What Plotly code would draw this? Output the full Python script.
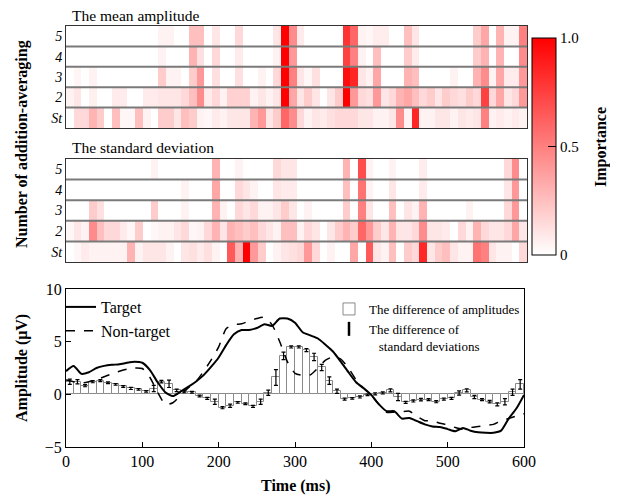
import plotly.graph_objects as go

# ---------------- data ----------------
time_bins = list(range(5, 600, 10))          # 60 bins of 10 ms (centres)
line_times = list(range(0, 601, 10))         # 61 samples
row_labels = ["St", "2", "3", "4", "5"]

# importance of the mean amplitude (rows: St, 2, 3, 4, 5)
amp_St = [0,.15,.15,.3,.2,0,.25,.03,.03,.25, .05,0,.2,.2,.1,.25,.2,.05,.03,.08,
          .05,.1,.1,.1,.3,.4,.1,.2,.6,.45, .15,.05,.1,.08,.12,.15,.15,.15,.1,.1,
          .05,.05,.1,.45,.05,.85,.05,.05,.1,.1, .05,.1,.08,.1,.5,.05,.08,.05,.08,.05]
amp_2 = [.05,.1,0,.06,0,0,.08,.08,0,0, .08,.08,.1,.1,.1,.15,.25,.45,.08,.15,
         .05,.18,.18,.18,.05,.1,.05,.1,1.0,.35, .1,.2,.1,0,.1,.2,1.0,.4,.15,.12,
         .4,.1,.15,.3,.35,.25,.15,.2,.1,.2, .15,.12,.2,.15,.75,.15,.35,.1,.15,.4]
amp_3 = [0,.04,0,.05,0,0,0,0,0,0, 0,0,.2,.05,.05,0,.2,.4,0,.12,
         0,0,.12,0,0,.05,0,.15,1.0,.5, .1,.03,.12,0,0,0,.95,.85,.1,.05,
         .35,0,0,0,.3,.25,0,0,0,0, .05,0,0,.3,.45,.05,.35,.08,.08,.4]
amp_4 = [0,0,0,0,0,0,0,0,0,0, 0,0,.05,0,0,0,.3,.12,0,.15,
         0,0,.08,0,0,0,0,.05,1.0,.4, 0,0,0,0,0,0,.75,.5,.05,0,
         .25,0,0,0,.2,.08,0,0,0,0, 0,0,0,.2,.3,0,.3,0,0,.45]
amp_5 = [0,0,0,0,0,0,0,0,0,0, 0,0,.05,.05,0,0,.25,.25,0,.1,
         0,0,.15,0,0,0,0,.1,1.0,.45, .08,0,0,0,0,0,.8,.6,.05,.03,
         .07,.07,0,0,.25,.1,0,0,0,0, 0,0,0,.2,.35,0,.3,.05,.05,.5]

# importance of the standard deviation
sd_St = [0,.03,.08,.05,.05,.05,.05,.05,.3,.05, .1,.1,.1,.05,0,.1,.12,.08,.12,.05,
         0,.65,.3,1.0,.4,.2,0,.05,.1,.12, .15,.4,.15,0,.05,0,0,.35,0,.65,
         .1,.05,.25,0,.2,.15,.85,.1,.2,.25, .1,.05,.05,.55,.5,.1,.05,.05,0,.15]
sd_2 = [.03,.1,.05,.45,.25,.15,.15,.08,.03,.2, 0,.03,.05,.05,.1,.15,.03,.05,.15,.3,
        .1,.3,.25,.2,.25,.15,.1,.05,.25,.25, .05,.15,.1,0,.1,.2,.3,.2,.6,.4,
        .2,.1,.3,.1,.1,.15,.45,.1,.1,.08, 0,.15,.05,.3,.15,.1,.1,.15,.35,.1]
sd_3 = [0,0,0,.2,.12,0,0,0,0,0, 0,.2,0,0,0,.05,0,0,0,.3,
        .05,0,.15,.1,.15,.05,.05,.1,.2,.1, 0,.05,0,0,0,0,.2,0,.5,.1,
        0,0,.25,0,.1,.05,.3,0,0,0, 0,0,.05,0,0,0,0,.15,.4,0]
sd_4 = [0,0,0,0,0,0,0,0,0,0, 0,0,0,0,0,.05,0,0,0,.35,
        0,0,.15,.1,.05,0,0,.1,.08,.08, 0,0,0,0,0,0,.25,0,.55,.05,
        0,0,.1,0,0,0,.08,0,0,0, 0,0,0,0,0,0,0,.1,.4,0]
sd_5 = [0,0,0,0,0,0,0,0,0,0, 0,.05,0,0,0,0,0,0,0,.3,
        0,0,.05,0,0,0,0,.15,.1,.1, 0,0,0,0,0,0,.3,0,.7,.05,
        0,0,.05,0,0,0,.07,0,0,0, 0,0,0,0,0,0,0,.15,.45,0]

# ERP waveforms (uV)
target = [2.2,2.7,1.95,2.1,2.5,2.7,2.8,2.85,3.0,3.1,
          3.0,2.3,1.15,0.2,-0.17,0.25,0.7,1.2,1.8,2.6,
          3.5,4.7,5.7,6.1,6.1,6.3,6.65,6.5,7.2,7.2,
          6.8,5.9,5.6,5.3,4.7,4.04,3.1,2.1,1.15,0.57,
          -0.07,-0.95,-1.6,-1.6,-2.3,-2.25,-2.55,-2.85,-3.05,-3.1,
          -3.3,-3.5,-3.2,-3.45,-3.6,-3.65,-3.65,-3.45,-2.3,-1.35,-0.05]
nontarget = [1.36,1.2,1.07,1.2,1.4,1.67,1.95,2.2,2.4,2.5,
             2.45,1.6,0.2,-0.95,-0.8,-0.1,0.6,1.2,2.15,3.25,
             4.5,6.25,6.6,6.7,6.96,7.2,7.3,6.6,5.0,3.1,
             2.0,1.8,1.85,2.5,3.25,3.55,3.35,2.5,1.37,0.57,
             -0.07,-0.95,-1.7,-1.7,-1.65,-1.6,-2.1,-2.5,-2.5,-2.75,
             -2.9,-3.15,-3.3,-3.15,-3.05,-2.95,-2.85,-2.5,-2.3,-2.05,-1.85]

# difference of amplitudes (bars) and difference of SDs (error bars)
amp_diff = [1.2,1.2,0.82,1.2,1.3,1.1,0.95,0.75,0.56,0.47,
            0.28,0.55,1.2,1.0,0.38,0.25,0.2,-0.16,-0.38,-0.7,
            -1.27,-1.08,-0.76,-0.9,-1.14,-0.7,0.15,1.6,3.65,4.5,
            4.5,4.2,3.55,2.55,1.3,0.3,-0.45,-0.38,-0.25,-0.05,
            0.05,0.13,0.38,-0.25,-0.76,-0.63,-0.5,-0.5,-0.7,-0.45,
            -0.38,0.13,0.38,-0.25,-0.5,-0.7,-0.95,-0.7,0.2,0.95]
sd_diff = [.25,.2,.1,.1,.1,.08,.08,.08,.1,.08,
           .08,.3,.12,.35,.12,.1,.08,.08,.1,.25,
           .1,.15,.08,.08,.1,.25,.25,.75,.35,.1,
           .1,.15,.35,.3,.35,.2,.1,.08,.1,.08,
           .1,.1,.15,.35,.1,.1,.12,.1,.1,.1,
           .1,.2,.15,.15,.1,.12,.15,.3,.3,.45]

# ---------------- figure ----------------
SERIF = "Liberation Serif"
OFF = 8                      # page body margin
W, H = 610, 489
ML, MR, MT, MB = 66 - OFF, 91, 26 - OFF, 50
PW, PH = W - ML - MR, H - MT - MB


def py(px):  # screenshot pixel (from top) -> paper y
    return (H - MB - (px - OFF)) / PH


def pxx(px):  # screenshot pixel (from left) -> paper x
    return (px - OFF - ML) / PW


fig = go.Figure()

fig.add_trace(go.Heatmap(x=time_bins, y=row_labels,
                         z=[amp_St, amp_2, amp_3, amp_4, amp_5],
                         coloraxis="coloraxis", xaxis="x", yaxis="y",
                         hoverinfo="skip"))
fig.add_trace(go.Heatmap(x=time_bins, y=row_labels,
                         z=[sd_St, sd_2, sd_3, sd_4, sd_5],
                         coloraxis="coloraxis", xaxis="x2", yaxis="y2",
                         hoverinfo="skip"))

fig.add_trace(go.Bar(x=time_bins, y=amp_diff, width=10,
                     marker=dict(color="white", line=dict(color="#8a8a8a", width=1)),
                     error_y=dict(type="data", array=sd_diff, color="black",
                                  thickness=1.2, width=2),
                     name="The difference of amplitudes",
                     legend="legend2", xaxis="x3", yaxis="y3"))
fig.add_trace(go.Scatter(x=[None], y=[None], mode="markers",
                         marker=dict(symbol="line-ns", size=10, color="black",
                                     line=dict(width=2.5, color="black")),
                         name="The difference of<br>\u00a0\u00a0\u00a0standard deviations",
                         legend="legend2", xaxis="x3", yaxis="y3"))
fig.add_trace(go.Scatter(x=line_times, y=target, mode="lines", name="Target",
                         line=dict(color="black", width=2, shape="spline", smoothing=0.6),
                         xaxis="x3", yaxis="y3"))
fig.add_trace(go.Scatter(x=line_times, y=nontarget, mode="lines", name="Non-target",
                         line=dict(color="black", width=1.5, dash="dash",
                                   shape="spline", smoothing=0.6),
                         xaxis="x3", yaxis="y3"))

hm_axis = dict(range=[0, 600], showticklabels=False, ticks="", showgrid=False,
               zeroline=False, showline=True, mirror=True, linecolor="#333",
               linewidth=1, automargin=False)
hm_yaxis = dict(type="category", categoryorder="array", categoryarray=row_labels,
                showgrid=False, zeroline=False, showline=True, mirror=True,
                linecolor="#333", linewidth=1, ticks="", automargin=False,
                tickfont=dict(family=SERIF, size=14, color="black", style="italic"))

fig.update_layout(
    width=W, height=H,
    margin=dict(l=ML, r=MR, t=MT, b=MB, autoexpand=False),
    paper_bgcolor="white", plot_bgcolor="white",
    font=dict(family=SERIF, color="black", size=15),
    bargap=0,
    xaxis=dict(hm_axis, domain=[0, 1], anchor="y"),
    yaxis=dict(hm_yaxis, domain=[py(128), 1], anchor="x"),
    xaxis2=dict(hm_axis, domain=[0, 1], anchor="y2"),
    yaxis2=dict(hm_yaxis, domain=[py(262), py(159)], anchor="x2"),
    xaxis3=dict(domain=[0, pxx(524)], anchor="y3", range=[0, 600], dtick=100,
                ticks="inside", ticklen=5, tickcolor="black", showgrid=False,
                zeroline=False, showline=True, mirror=True, linecolor="black",
                linewidth=1, automargin=False, tickfont=dict(family=SERIF, size=16)),
    yaxis3=dict(domain=[0, py(289)], anchor="x3", range=[-5, 10],
                tickvals=[-5, 0, 5, 10], ticks="inside", ticklen=5,
                tickcolor="black", showgrid=False, zeroline=False, showline=True,
                mirror=True, linecolor="black", linewidth=1, automargin=False,
                tickfont=dict(family=SERIF, size=16)),
    coloraxis=dict(
        colorscale=[[0, "#ffffff"], [1, "#ff0000"]], cmin=0, cmax=1,
        colorbar=dict(x=pxx(532), xanchor="left", xpad=0, ypad=0,
                      thickness=24, lenmode="fraction", len=(255 - 38) / PH,
                      y=py((38 + 255) / 2), yanchor="middle",
                      outlinewidth=1, outlinecolor="black",
                      tickvals=[0, 0.5, 1], ticktext=["0", "0.5", "1.0"],
                      ticks="inside", ticklen=8, tickcolor="black",
                      tickfont=dict(family=SERIF, size=15))),
    legend=dict(x=pxx(61), y=py(290), xanchor="left", yanchor="top",
                bgcolor="rgba(0,0,0,0)", font=dict(family=SERIF, size=16),
                tracegroupgap=0, itemwidth=30),
    legend2=dict(x=pxx(329), y=py(294), xanchor="left", yanchor="top",
                 bgcolor="rgba(0,0,0,0)", font=dict(family=SERIF, size=13),
                 tracegroupgap=0, itemwidth=30, valign="top"),
)

# row separators
for ax in ("y", "y2"):
    for yv in (0.5, 1.5, 2.5, 3.5):
        fig.add_shape(type="line", xref="x domain" if ax == "y" else "x2 domain",
                      yref=ax, x0=0, x1=1, y0=yv, y1=yv,
                      line=dict(color="#7a7a7a", width=2), layer="above")

ann = [
    dict(text="The mean amplitude", x=pxx(70), y=1, yanchor="bottom", yshift=0,
         xanchor="left", font=dict(size=15.5)),
    dict(text="The standard deviation", x=pxx(70), y=py(159), yanchor="bottom",
         yshift=1, xanchor="left", font=dict(size=15.5)),
    dict(text="<b>Number of addition-averaging</b>", x=pxx(22), y=py(144),
         xanchor="center", yanchor="middle", textangle=-90, font=dict(size=16)),
    dict(text="<b>Importance</b>", x=pxx(601), y=py(147), xanchor="center",
         yanchor="middle", textangle=-90, font=dict(size=16)),
    dict(text="<b>Amplitude (μV)</b>", x=pxx(22), y=py(368), xanchor="center",
         yanchor="middle", textangle=-90, font=dict(size=16)),
    dict(text="<b>Time (ms)</b>", x=pxx(295), y=py(486), xanchor="center",
         yanchor="middle", font=dict(size=16)),
]
for a in ann:
    a.update(xref="paper", yref="paper", showarrow=False)
    fig.add_annotation(**a)

fig.write_html("out.html")
